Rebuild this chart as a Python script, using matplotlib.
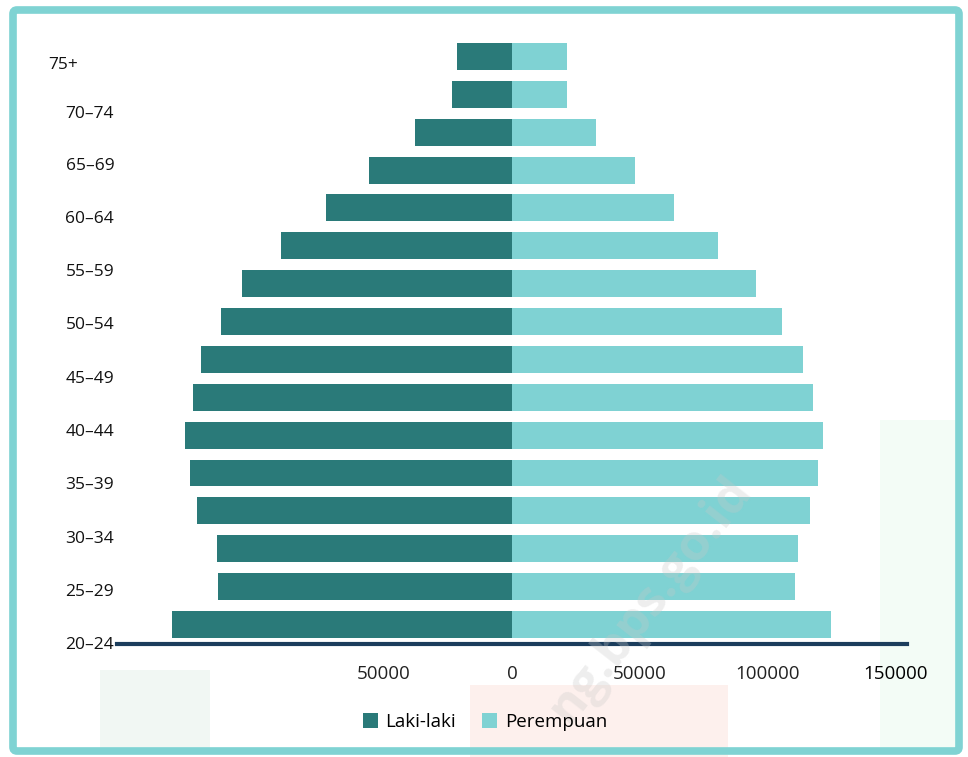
import numpy as np
import matplotlib
matplotlib.use("Agg")
import matplotlib.pyplot as plt
from matplotlib.patches import FancyBboxPatch, Rectangle
from matplotlib.transforms import ScaledTranslation

plt.rcParams['font.family'] = ['Open Sans', 'DejaVu Sans']

# age groups, bottom to top
groups = ['0–4', '5–9', '10–14', '15–19', '20–24', '25–29', '30–34', '35–39',
          '40–44', '45–49', '50–54', '55–59', '60–64', '65–69', '70–74', '75+']
laki = [133000, 115000, 115400, 123200, 125600, 127900, 124800, 121300,
        113500, 105300, 90400, 72500, 55700, 37700, 23600, 21300]
perempuan = [124800, 110700, 111900, 116600, 119700, 121300, 117400, 113500,
             105300, 95500, 80300, 63100, 48200, 33000, 21300, 21300]

# the labels printed on the left of the picture
label_text = ['20–24', '25–29', '30–34', '35–39', '40–44', '45–49',
              '50–54', '55–59', '60–64', '65–69', '70–74', '75+']

x_ticks = [-50000, 0, 50000, 100000, 150000]
x_ticklabels = ['50000', '0', '50000', '100000', '150000']

dark = '#2a7a79'
light = '#7fd2d3'

W, H = 968, 757
fig = plt.figure(figsize=(W / 100, H / 100), dpi=100)

# faint watermark background blobs
bg = fig.add_axes([0, 0, 1, 1], zorder=0)
bg.set_xlim(0, W)
bg.set_ylim(H, 0)
bg.axis('off')
bg.add_patch(Rectangle((470, 685), 258, 72, color='#fdf0ed', lw=0))
bg.add_patch(Rectangle((880, 420), 80, 330, color='#f3fcf6', lw=0))
bg.add_patch(Rectangle((100, 670), 110, 80, color='#f1f7f3', lw=0))

# main axes: zero of the pyramid sits at x ~ 512 px
ax_left, ax_right = 117, 907
ax_top, ax_bot = 30, 644
ax = fig.add_axes([ax_left / W, 1 - ax_bot / H, (ax_right - ax_left) / W,
                   (ax_bot - ax_top) / H], zorder=1)
ax.patch.set_alpha(0)

y = np.arange(len(groups))
ax.barh(y, -np.array(laki), height=0.71, color=dark, label='Laki-laki')
ax.barh(y, perempuan, height=0.71, color=light, label='Perempuan')

ax.set_xlim(-154300, 154300)
step = 37.87  # px per bar slot
ax.set_ylim(-(ax_bot - 624.5) / step, (624.5 - ax_top) / step)

for s in ['left', 'right', 'top']:
    ax.spines[s].set_visible(False)
ax.spines['bottom'].set_color('#1b3d5c')
ax.spines['bottom'].set_linewidth(3)

ax.set_xticks(x_ticks)
ax.set_xticklabels(x_ticklabels, fontsize=13.5, color='#222222')
ax.get_xticklabels()[-1].set_color('black')
ax.tick_params(axis='x', length=0, pad=15)

# left labels are spaced wider than the bars (pixel rows in the picture)
label_rows = np.array([643, 590, 537, 483, 430, 377, 323, 270, 217, 164, 112, 63])
ax.set_yticks((624.5 - label_rows) / step)
ax.set_yticklabels(label_text, fontsize=12.5, color='#111111')
ax.tick_params(axis='y', length=0, pad=2)
lab = ax.get_yticklabels()[-1]
lab.set_transform(lab.get_transform() + ScaledTranslation(-0.36, 0, fig.dpi_scale_trans))

fig.legend(loc='center', bbox_to_anchor=(485 / W, 1 - 722 / H), ncol=2,
           frameon=False, fontsize=13.5, handlelength=0.8, handleheight=0.8,
           handletextpad=0.4, columnspacing=1.4)

# watermark text
fig.text(650 / W, 1 - 600 / H, 'ng.bps.go.id', rotation=52,
         fontsize=36, fontweight='bold', color='#c8c8c8', alpha=0.3,
         ha='center', va='center', zorder=5)

# teal frame around the picture
frame = fig.add_axes([0, 0, 1, 1], zorder=10)
frame.set_xlim(0, W)
frame.set_ylim(H, 0)
frame.axis('off')
frame.patch.set_alpha(0)
frame.add_patch(FancyBboxPatch((13, 10), W - 22, H - 16,
                               boxstyle='round,pad=0,rounding_size=4',
                               fill=False, edgecolor='#7fd3d3', lw=5.5))

fig.savefig('out.png', dpi=100)
